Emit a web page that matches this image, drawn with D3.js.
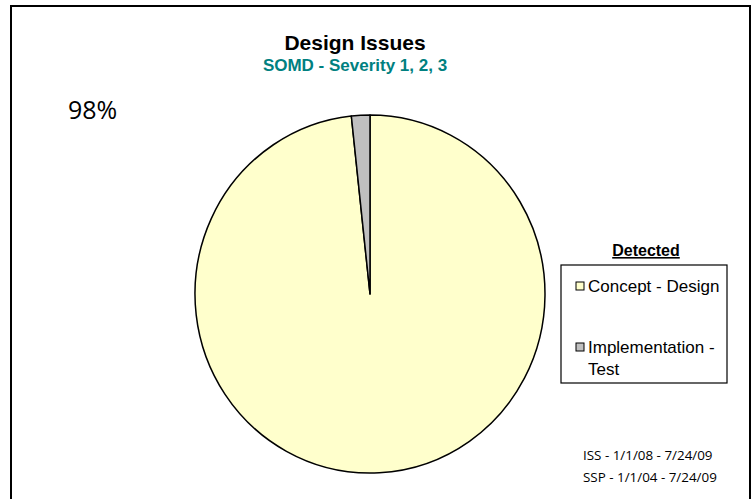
<!DOCTYPE html>
<html>
<head>
<meta charset="utf-8">
<script src="https://cdn.jsdelivr.net/npm/d3@7"></script>
<style>
  body { margin: 0; background: #fff; }
</style>
</head>
<body>
<script>
'use strict';

// chart data
const categories = ["Concept - Design", "Implementation - Test"];
const values = [98.3, 1.7];
const colors = ["#ffffcc", "#c0c0c0"];
const pctLabel = "98%";
const notes = ["ISS - 1/1/08 - 7/24/09", "SSP - 1/1/04 - 7/24/09"];

const svg = d3.select("body").append("svg")
  .attr("width", 754)
  .attr("height", 499);

// outer frame
svg.append("rect")
  .attr("x", 11).attr("y", 6)
  .attr("width", 739).attr("height", 510)
  .attr("fill", "#fff")
  .attr("stroke", "#000")
  .attr("stroke-width", 2);

// titles
svg.append("text")
  .attr("x", 355).attr("y", 50)
  .attr("text-anchor", "middle")
  .attr("font-family", "Liberation Sans, Arial, sans-serif")
  .attr("font-size", "21px")
  .attr("font-weight", "bold")
  .text("Design Issues");

svg.append("text")
  .attr("x", 355).attr("y", 71)
  .attr("text-anchor", "middle")
  .attr("font-family", "Liberation Sans, Arial, sans-serif")
  .attr("font-size", "17px")
  .attr("font-weight", "bold")
  .attr("fill", "#008080")
  .text("SOMD - Severity 1, 2, 3");

// pie (slightly taller than wide, as in the original)
const radius = 175;
const g = svg.append("g")
  .attr("transform", "translate(370,294) scale(1,1.023)");

const pie = d3.pie().sort(null).value(d => d.value);
const arc = d3.arc().innerRadius(0).outerRadius(radius);
const data = categories.map((c, i) => ({ name: c, value: values[i], color: colors[i] }));

g.selectAll("path")
  .data(pie(data))
  .enter()
  .append("path")
    .attr("d", arc)
    .attr("fill", d => d.data.color)
    .attr("stroke", "#000")
    .attr("stroke-width", 1.5)
    .attr("stroke-linejoin", "round");

// percentage label
svg.append("text")
  .attr("x", 68).attr("y", 119)
  .attr("font-family", "Open Sans, sans-serif")
  .attr("font-size", "25px")
  .text(pctLabel);

// legend
svg.append("text")
  .attr("x", 646).attr("y", 256)
  .attr("text-anchor", "middle")
  .attr("font-family", "Liberation Sans, Arial, sans-serif")
  .attr("font-size", "16px")
  .attr("font-weight", "bold")
  .attr("text-decoration", "underline")
  .text("Detected");

svg.append("rect")
  .attr("x", 561).attr("y", 265)
  .attr("width", 166).attr("height", 118)
  .attr("fill", "#fff")
  .attr("stroke", "#000")
  .attr("stroke-width", 1.2);

const legendY = [286, 347];
const legend = svg.selectAll(".legend-item")
  .data(data)
  .enter()
  .append("g")
    .attr("class", "legend-item")
    .attr("transform", (d, i) => "translate(576," + legendY[i] + ")");

legend.append("rect")
  .attr("x", 0).attr("y", -4)
  .attr("width", 8).attr("height", 8)
  .attr("fill", d => d.color)
  .attr("stroke", "#000")
  .attr("stroke-width", 1);

legend.append("text")
  .attr("x", 12).attr("y", 6)
  .attr("font-family", "Liberation Sans, Arial, sans-serif")
  .attr("font-size", "17px")
  .each(function(d) {
    const parts = d.name === "Implementation - Test" ? ["Implementation -", "Test"] : [d.name];
    const t = d3.select(this);
    parts.forEach((p, k) => {
      t.append("tspan")
        .attr("x", 12)
        .attr("dy", k === 0 ? 0 : 22)
        .text(p);
    });
  });

// date notes
svg.selectAll(".note")
  .data(notes)
  .enter()
  .append("text")
    .attr("class", "note")
    .attr("x", 583)
    .attr("y", (d, i) => 460 + i * 22)
    .attr("font-family", "Open Sans, sans-serif")
    .attr("font-size", "13.4px")
    .text(d => d);
</script>
</body>
</html>
